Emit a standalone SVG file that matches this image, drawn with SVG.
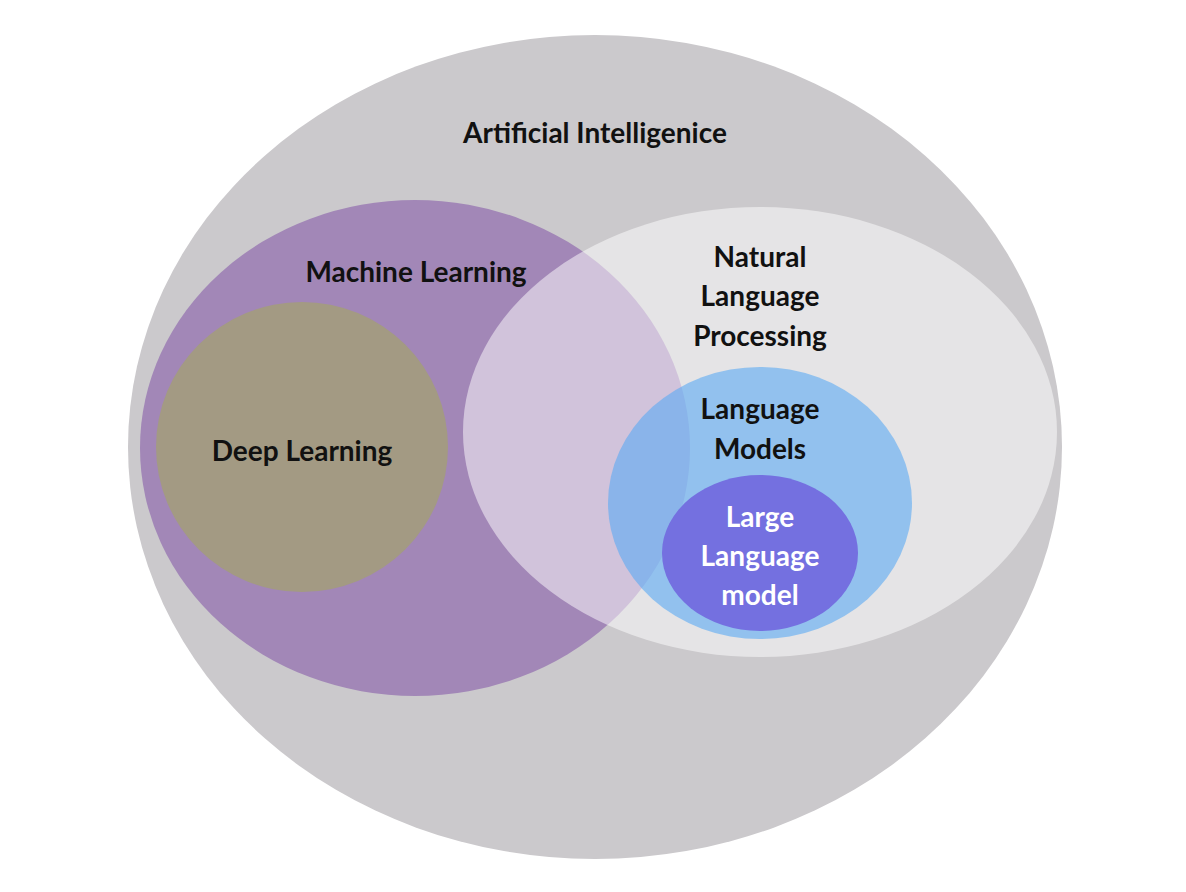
<svg xmlns="http://www.w3.org/2000/svg" width="1186" height="892" viewBox="0 0 1186 892">
<style>
text{font-family:Lato,"Liberation Sans",sans-serif;font-weight:bold;font-size:28px;text-anchor:middle;fill:#111}
</style>
<rect width="1186" height="892" fill="#fff"/>
<g id="ai"><ellipse cx="595" cy="447" rx="467" ry="412" fill="#cbc9cc"/><text x="595" y="143">Artificial Intelligenice</text></g>
<g id="ml"><ellipse cx="415" cy="448" rx="275" ry="248" fill="#a287b7"/><text x="416" y="282">Machine Learning</text></g>
<g id="dl"><ellipse cx="302" cy="447" rx="146" ry="145" fill="#a39a83"/><text x="302" y="461">Deep Learning</text></g>
<g id="nlp"><ellipse cx="760" cy="432" rx="297" ry="225" fill="#fff" fill-opacity="0.5"/><text x="760" y="267">Natural</text><text x="760" y="306">Language</text><text x="760" y="346">Processing</text></g>
<g id="lm"><ellipse cx="760" cy="503" rx="152" ry="136" fill="#5aaaf3" fill-opacity="0.6"/><text x="760" y="419">Language</text><text x="760" y="459">Models</text></g>
<g id="llm"><ellipse cx="760" cy="553" rx="98" ry="78" fill="#7470e0"/><text x="760" y="527" style="fill:#fff">Large</text><text x="760" y="566" style="fill:#fff">Language</text><text x="760" y="605" style="fill:#fff">model</text></g>
<g id="connectors"/>
</svg>
